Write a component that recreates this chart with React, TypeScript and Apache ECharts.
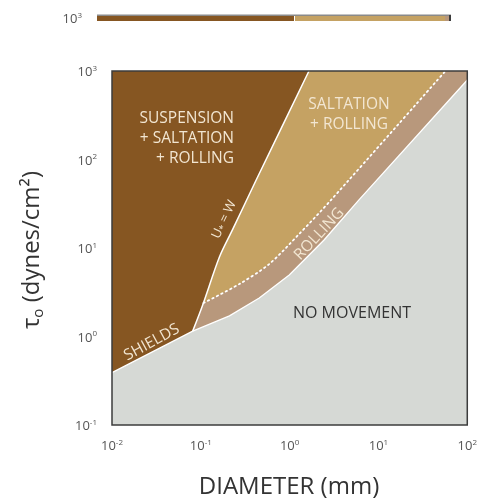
import React, { useEffect, useRef } from 'react';
import * as echarts from 'echarts';

// Axis extents (log scales)
const xExtent = [0.01, 100];
const yExtent = [0.1, 1000];

// Boundary curves [diameter mm, tau dynes/cm2]
const shieldsCurve = [[0.01, 0.39], [0.081, 1.15]];
const noMovementEdge = [[0.081, 1.15], [0.21, 1.71], [0.455, 2.72], [0.99, 4.95], [2.44, 12.3], [6.0, 34.8], [100, 791]];
const uStarEqualsW = [[0.081, 1.15], [0.105, 2.27], [0.162, 7.9], [0.227, 16.0], [0.42, 58.6], [1.65, 1000]];
const rollingTop = [[0.107, 2.39], [0.272, 3.92], [0.589, 6.59], [1.28, 14.4], [2.92, 34.8], [56.8, 1000]];

const FONT = 'Open Sans';
const COL_SUSP = '#865622';
const COL_SALT = '#c5a263';
const COL_ROLL = '#b8987c';
const COL_NONE = '#d6d9d5';
const CREAM = '#f2e6d2';

const pow10Label = (v: number) => '{b|10}{s|' + String(Math.round(Math.log10(v))) + '}';
const tickRich = {
  b: { fontSize: 13, color: '#555', fontFamily: FONT, lineHeight: 16 },
  s: { fontSize: 8, color: '#555', fontFamily: FONT, lineHeight: 10, verticalAlign: 'top' },
};

function polySeries(pts: number[][], fill: string, z: number) {
  return {
    type: 'custom',
    coordinateSystem: 'cartesian2d',
    silent: true,
    z,
    clip: true,
    data: [pts[0]],
    renderItem: (_p: any, api: any) => ({
      type: 'polygon',
      shape: { points: pts.map((p) => api.coord(p)) },
      style: { fill },
    }),
  };
}

export default function App() {
  const ref = useRef<HTMLDivElement>(null);
  useEffect(() => {
    const chart = echarts.init(ref.current!, null, { renderer: 'svg' });
    const [x0, x1] = xExtent;
    const [y0, y1] = yExtent;
    const option: any = {
      animation: false,
      grid: { left: 112, right: 11, top: 71, bottom: 74 },
      xAxis: {
        type: 'log', logBase: 10, min: x0, max: x1,
        axisLine: { show: false }, axisTick: { show: false }, splitLine: { show: false },
        axisLabel: { formatter: pow10Label, rich: tickRich, margin: 12 },
      },
      yAxis: {
        type: 'log', logBase: 10, min: y0, max: y1,
        axisLine: { show: false }, axisTick: { show: false }, splitLine: { show: false },
        axisLabel: { formatter: pow10Label, rich: tickRich, margin: 15 },
      },
      series: [
        polySeries([[x0, y0], [x0, y1], [x1, y1], [x1, y0]], COL_SUSP, 1),
        polySeries([...uStarEqualsW, [x1, y1], [x1, y0]], COL_SALT, 2),
        polySeries([uStarEqualsW[0], uStarEqualsW[1], ...rollingTop, [x1, y1], [x1, y0]], COL_ROLL, 3),
        polySeries([[x0, y0], ...shieldsCurve, ...noMovementEdge.slice(1), [x1, y0]], COL_NONE, 4),
        {
          type: 'line', data: [...shieldsCurve, ...noMovementEdge.slice(1)], symbol: 'none', z: 5, silent: true,
          lineStyle: { color: '#ffffff', width: 1.3 },
        },
        {
          type: 'line', data: uStarEqualsW, symbol: 'none', z: 5, silent: true, smooth: 0.3,
          lineStyle: { color: '#ffffff', width: 1.5 },
        },
        {
          type: 'line', data: rollingTop, symbol: 'none', z: 5, silent: true, smooth: 0.3,
          lineStyle: { color: '#ffffff', width: 1.8, type: [1.5, 3.5], cap: 'round' },
        },
        {
          type: 'custom', coordinateSystem: 'cartesian2d', silent: true, z: 6, clip: false,
          data: [[x0, y1]],
          renderItem: (_p: any, api: any) => {
            const a = api.coord([x0, y1]);
            const b = api.coord([x1, y0]);
            return {
              type: 'rect',
              shape: { x: a[0], y: a[1], width: b[0] - a[0], height: b[1] - a[1] },
              style: { fill: 'none', stroke: '#3c3c3c', lineWidth: 1.5 },
            };
          },
        },
      ],
      graphic: [
        // cropped strip of the figure above
        { type: 'rect', shape: { x: 97, y: 14.5, width: 354, height: 1.5 }, style: { fill: '#8a8a8a' } },
        { type: 'rect', shape: { x: 97, y: 16, width: 197, height: 5 }, style: { fill: COL_SUSP } },
        { type: 'rect', shape: { x: 295, y: 16, width: 150, height: 5 }, style: { fill: COL_SALT } },
        { type: 'rect', shape: { x: 445, y: 16, width: 4, height: 5 }, style: { fill: COL_ROLL } },
        { type: 'rect', shape: { x: 449, y: 15, width: 2, height: 6 }, style: { fill: '#3c3c3c' } },
        {
          type: 'text', x: 82, y: 18,
          style: {
            text: '{b|10}{s|3}', align: 'right', verticalAlign: 'middle',
            rich: {
              b: { fontSize: 13, fill: '#555', fontFamily: FONT, lineHeight: 16 },
              s: { fontSize: 8, fill: '#555', fontFamily: FONT, lineHeight: 10, verticalAlign: 'top' },
            },
          },
        },
        // region labels
        {
          type: 'text', x: 234, y: 137, z: 10,
          style: { text: 'SUSPENSION\n+ SALTATION\n+ ROLLING', fill: CREAM, fontSize: 15.5, fontFamily: FONT, align: 'right', verticalAlign: 'middle', lineHeight: 20 },
        },
        {
          type: 'text', x: 349, y: 112.5, z: 10,
          style: { text: 'SALTATION\n+ ROLLING', fill: CREAM, fontSize: 15.5, fontFamily: FONT, align: 'center', verticalAlign: 'middle', lineHeight: 20 },
        },
        {
          type: 'text', x: 352, y: 312, z: 10,
          style: { text: 'NO MOVEMENT', fill: '#333', fontSize: 16, fontFamily: FONT, align: 'center', verticalAlign: 'middle' },
        },
        {
          type: 'text', x: 318, y: 233, z: 10, rotation: 0.82,
          style: { text: 'ROLLING', fill: CREAM, fontSize: 15.5, fontFamily: FONT, align: 'center', verticalAlign: 'middle' },
        },
        {
          type: 'text', x: 151, y: 341, z: 10, rotation: 0.5,
          style: { text: 'SHIELDS', fill: CREAM, fontSize: 15.5, fontFamily: FONT, align: 'center', verticalAlign: 'middle' },
        },
        {
          type: 'text', x: 223, y: 219, z: 10, rotation: 1.12,
          style: {
            text: '{m|U}{s|*}{m| = W}', align: 'center', verticalAlign: 'middle',
            rich: {
              m: { fontSize: 13, fontFamily: FONT, fill: CREAM },
              s: { fontSize: 9, fontFamily: FONT, fill: CREAM, verticalAlign: 'bottom', padding: [6, 0, 0, 0] },
            },
          },
        },
        // axis names
        {
          type: 'text', x: 289, y: 484,
          style: { text: 'DIAMETER (mm)', fill: '#333', fontSize: 24, fontFamily: FONT, align: 'center', verticalAlign: 'middle' },
        },
        {
          type: 'text', x: 29, y: 250, rotation: Math.PI / 2,
          style: {
            text: '{m|τ}{s|o}{m| (dynes/cm²)}', align: 'center', verticalAlign: 'middle',
            rich: {
              m: { fontSize: 24, fontFamily: FONT, fill: '#333', lineHeight: 30 },
              s: { fontSize: 15, fontFamily: FONT, fill: '#333', verticalAlign: 'bottom', padding: [12, 0, 0, 0] },
            },
          },
        },
      ],
    };
    chart.setOption(option);
    return () => chart.dispose();
  }, []);
  return <div ref={ref} style={{ position: 'fixed', left: 0, top: 0, width: 480, height: 499 }} />;
}
